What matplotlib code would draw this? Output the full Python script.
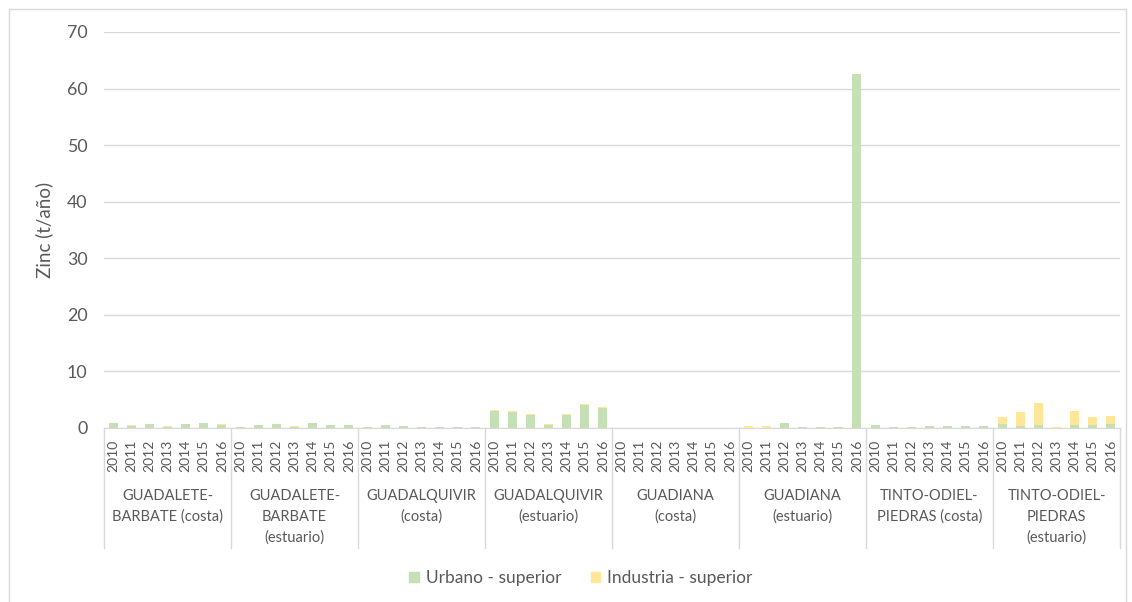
import matplotlib
matplotlib.use("Agg")
import matplotlib.pyplot as plt
import numpy as np
from matplotlib.patches import Rectangle

plt.rcParams['font.family'] = ['Lato', 'DejaVu Sans']

groups = ["GUADALETE-\nBARBATE (costa)", "GUADALETE-\nBARBATE\n(estuario)",
          "GUADALQUIVIR\n(costa)", "GUADALQUIVIR\n(estuario)",
          "GUADIANA\n(costa)", "GUADIANA\n(estuario)",
          "TINTO-ODIEL-\nPIEDRAS (costa)", "TINTO-ODIEL-\nPIEDRAS\n(estuario)"]
years = ["2010", "2011", "2012", "2013", "2014", "2015", "2016"]

urbano = [
    [0.80, 0.40, 0.75, 0.10, 0.75, 0.80, 0.50],
    [0.15, 0.50, 0.75, 0.10, 0.80, 0.45, 0.45],
    [0.18, 0.53, 0.35, 0.18, 0.18, 0.18, 0.18],
    [3.05, 2.90, 2.35, 0.50, 2.35, 4.00, 3.60],
    [0.00, 0.00, 0.00, 0.00, 0.00, 0.00, 0.00],
    [0.05, 0.05, 0.80, 0.18, 0.18, 0.18, 62.5],
    [0.53, 0.18, 0.18, 0.35, 0.35, 0.35, 0.35],
    [0.75, 0.35, 0.50, 0.00, 0.50, 0.50, 0.75],
]
industria = [
    [0.15, 0.10, 0.02, 0.25, 0.02, 0.15, 0.20],
    [0.00, 0.02, 0.02, 0.25, 0.12, 0.08, 0.08],
    [0.00, 0.00, 0.00, 0.00, 0.00, 0.00, 0.00],
    [0.20, 0.15, 0.18, 0.25, 0.18, 0.18, 0.15],
    [0.00, 0.00, 0.00, 0.00, 0.00, 0.00, 0.00],
    [0.30, 0.30, 0.12, 0.00, 0.00, 0.00, 0.00],
    [0.00, 0.00, 0.00, 0.00, 0.00, 0.00, 0.00],
    [1.25, 2.40, 4.00, 0.18, 2.55, 1.50, 1.40],
]

GREEN = "#C5E0B4"
YELLOW = "#FFE699"
TXT = "#595959"
GRID = "#D9D9D9"

W, H = 1132, 602
fig = plt.figure(figsize=(W / 100, H / 100), dpi=100)
x0, x1, y0, y1 = 104, 1120, 428, 32
ax = fig.add_axes([x0 / W, 1 - y0 / H, (x1 - x0) / W, (y0 - y1) / H])

ng, ny = len(groups), len(years)
u = np.array(urbano).ravel()
ind = np.array(industria).ravel()
x = np.arange(ng * ny)
ax.bar(x, u, width=0.5, color=GREEN, zorder=3)
ax.bar(x, ind, width=0.5, bottom=u, color=YELLOW, zorder=3)

ax.set_xlim(-0.5, ng * ny - 0.5)
ax.set_ylim(0, 70)
ax.set_yticks(np.arange(0, 71, 10))
ax.yaxis.grid(True, color=GRID, linewidth=1)
ax.set_axisbelow(True)
for s in ["top", "right", "left"]:
    ax.spines[s].set_visible(False)
ax.spines["bottom"].set_color(GRID)
ax.tick_params(axis="y", length=0, labelsize=12.8, colors=TXT, pad=12)
ax.set_xticks(x)
ax.set_xticklabels(years * ng, rotation=90, fontsize=10, color=TXT)
ax.tick_params(axis="x", length=0, pad=8.5)
ax.set_ylabel("Zinc (t/año)", fontsize=13.5, color=TXT, labelpad=10)

# group separators and labels
trans = ax.get_xaxis_transform()
depth = (548 - 428) / (y0 - y1)
for g in range(ng + 1):
    xb = g * ny - 0.5
    ax.plot([xb, xb], [0, -depth], transform=trans, color=GRID, lw=1, clip_on=False)
for g, name in enumerate(groups):
    xc = g * ny + (ny - 1) / 2
    ax.text(xc, -(489 - 428) / (y0 - y1), name, transform=trans, ha="center", va="top",
            fontsize=10.5, color=TXT, linespacing=1.6)

# legend
fig.legend(handles=[Rectangle((0, 0), 1, 1, color=GREEN), Rectangle((0, 0), 1, 1, color=YELLOW)],
           labels=["Urbano - superior", "Industria - superior"], loc="center",
           bbox_to_anchor=(581 / W, 1 - 578 / H), ncol=2, frameon=False, fontsize=12.5,
           labelcolor=TXT, handlelength=0.55, handleheight=0.55, columnspacing=1.7, handletextpad=0.4)

# chart border
fig.patches.append(Rectangle((9 / W, -0.01), (1126 - 9) / W, 1 - 9 / H + 0.01, transform=fig.transFigure,
                             fill=False, edgecolor=GRID, lw=1))

fig.savefig("out.png", dpi=100, facecolor="white")
